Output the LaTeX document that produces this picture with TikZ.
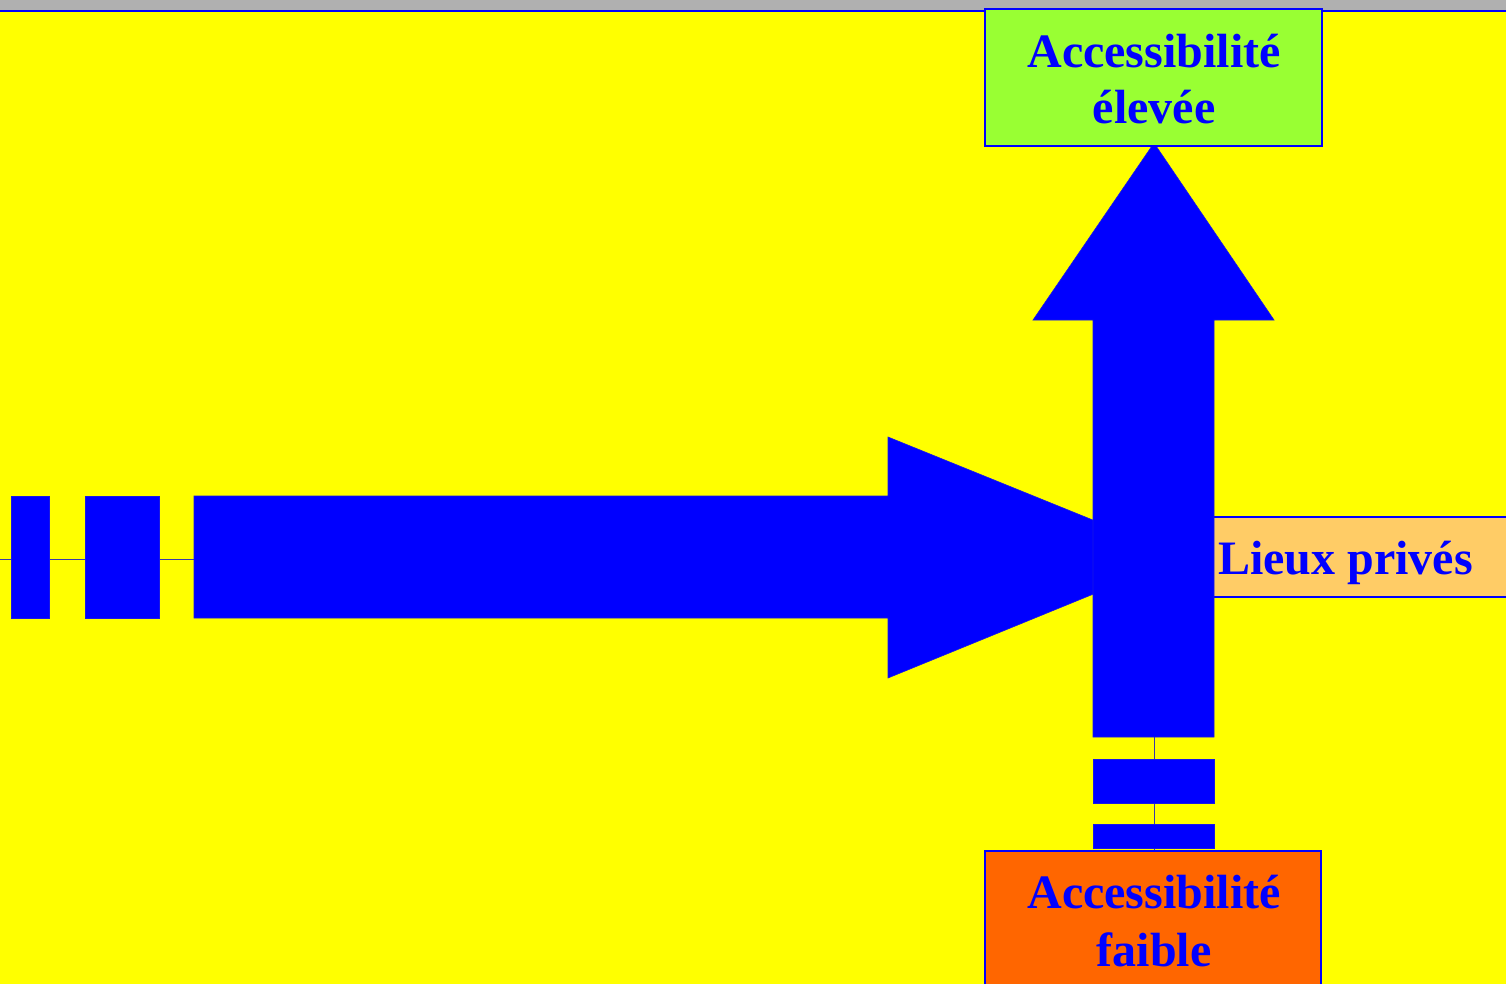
\documentclass[tikz,border=0pt]{standalone}
\usepackage{fontspec}
\setmainfont{Liberation Serif}
\definecolor{bgyellow}{HTML}{FFFF00}
\definecolor{topgray}{HTML}{B0B0B0}
\definecolor{boxgreen}{HTML}{99FF33}
\definecolor{boxorange}{HTML}{FF6600}
\definecolor{boxpeach}{HTML}{FFCC66}
\definecolor{arrowblue}{HTML}{0000FF}
\definecolor{axisline}{HTML}{3A3AA8}
\tikzset{
  x=1pt, y=-1pt,
  bigtext/.style={font=\bfseries\fontsize{48}{56}\selectfont, text=arrowblue, inner sep=0pt},
  labelbox/.style={draw=arrowblue, line width=1.6pt},
  bluepart/.style={fill=arrowblue, draw=arrowblue!80!gray, line width=0.6pt},
  axis/.style={draw=axisline, line width=1pt},
}
\begin{document}
\begin{tikzpicture}
\useasboundingbox (0,0) rectangle (1506,984);
% background
\fill[bgyellow] (0,0) rectangle (1506,984);
\fill[topgray] (0,0) rectangle (1506,10);
\fill[arrowblue] (0,10) rectangle (1506,12);

% axis lines
\coordinate (hstart) at (0,559);
\coordinate (hend) at (194,559);
\draw[axis] (hstart) -- (hend);
\coordinate (vstart) at (1154,737);
\coordinate (vend) at (1154,851);
\draw[axis] (vstart) -- (vend);

% horizontal dashed part
\path[bluepart] (11.5,496) rectangle (49.5,618);
\path[bluepart] (85,496) rectangle (159,618);

% horizontal big arrow
\path[bluepart] (194,496) -- (888,496) -- (888,437) -- (1184,557) -- (888,678) -- (888,618) -- (194,618) -- cycle;

% lieux prives box
\path[labelbox, fill=boxpeach] (1212,517) rectangle (1510,597);
\node[bigtext, anchor=base west] (prives) at (1218,574) {Lieux privés};

% vertical big arrow
\path[bluepart] (1093,737) -- (1093,320) -- (1033,320) -- (1154,143) -- (1274,320) -- (1214,320) -- (1214,737) -- cycle;

% vertical dashed part
\path[bluepart] (1093,759) rectangle (1214,803);
\path[bluepart] (1093,824) rectangle (1214,848);

% top box
\path[labelbox, fill=boxgreen] (985,9) rectangle (1322,146);
\node[bigtext, anchor=base] (haut1) at (1154,68) {Accessibilité};
\node[bigtext, anchor=base] (haut2) at (1154,124) {élevée};

% bottom box
\path[labelbox, fill=boxorange] (985,851) rectangle (1321,990);
\node[bigtext, anchor=base] (bas1) at (1154,908) {Accessibilité};
\node[bigtext, anchor=base] (bas2) at (1154,966) {faible};
\end{tikzpicture}
\end{document}
